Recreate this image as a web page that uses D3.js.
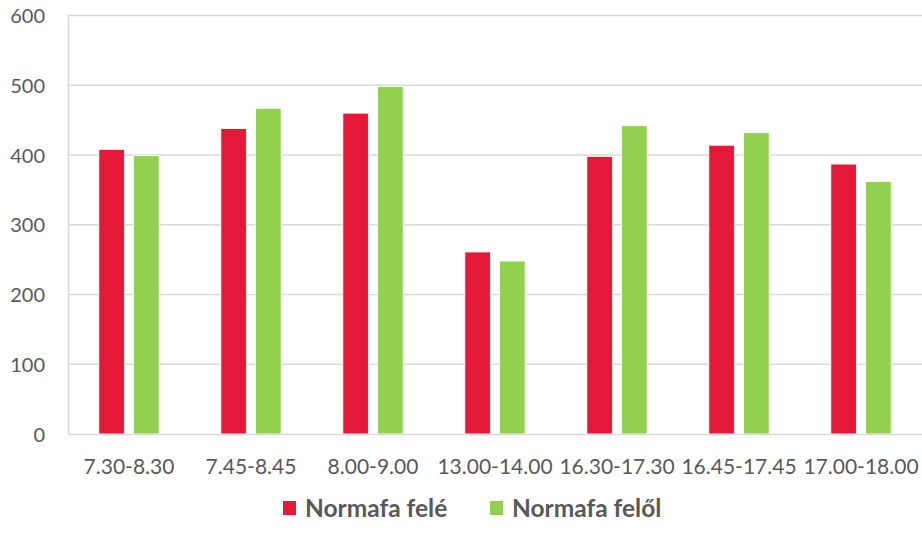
<!DOCTYPE html>
<html><head><meta charset="utf-8">
<script src="https://cdn.jsdelivr.net/npm/d3@7/dist/d3.min.js"></script>
<style>body{margin:0;background:#fff;} svg{display:block;} text{font-family:Lato, "Open Sans", sans-serif;}</style>
</head><body>
<svg id="c" width="922" height="533"></svg>
<script>
const categories = ["7.30-8.30","7.45-8.45","8.00-9.00","13.00-14.00","16.30-17.30","16.45-17.45","17.00-18.00"];
const seriesNames = ["Normafa felé","Normafa felől"];
const feleValues = [408, 438, 460, 261, 398, 414, 387];
const felolValues = [399, 467, 498, 248, 442, 432, 362];
const yTicks = [0,100,200,300,400,500,600];
const colors = ["#E31937","#92D050"];

const svg = d3.select("#c");
const m = {left:68, right:0, top:15.5};
const W = 922;
const x = d3.scaleBand().domain(categories).range([m.left, W - m.right]);
const y = d3.scaleLinear().domain([0,600]).range([434, m.top]);

svg.append("g").selectAll("line").data(yTicks.filter(d=>d>0)).join("line")
  .attr("x1", m.left).attr("x2", W).attr("y1", d=>y(d)).attr("y2", d=>y(d))
  .attr("stroke","#d9d9d9").attr("stroke-width",1.5);
svg.append("line").attr("x1",m.left+0.5).attr("x2",m.left+0.5).attr("y1",y(600)).attr("y2",y(0))
  .attr("stroke","#d9d9d9").attr("stroke-width",1.5);

const yAxis = d3.axisLeft(y).tickValues(yTicks).tickSize(0).tickPadding(0);
const gy = svg.append("g").attr("transform",`translate(45,0)`).call(yAxis);
gy.attr("font-family", null).attr("font-size", null);
gy.select(".domain").remove();
gy.selectAll("text").attr("fill","#595959").style("font-size","20px").attr("dy","0.35em");

const series = [feleValues, felolValues];
const bw = 25.5, gap = 9.3;
const offs = [-(bw/2 + gap/2), (bw/2 + gap/2)];
series.forEach((vals, si) => {
  svg.append("g").selectAll("rect").data(vals).join("rect")
    .attr("x", (d,i) => x(categories[i]) + x.bandwidth()/2 + offs[si] - bw/2)
    .attr("width", bw)
    .attr("y", d => y(d))
    .attr("height", d => y(0) - y(d))
    .attr("fill", colors[si])
    .attr("stroke","#fff").attr("stroke-width",0.8);
});

const xAxis = d3.axisBottom(x).tickSize(0).tickPadding(0);
const gx = svg.append("g").attr("transform",`translate(0,${y(0)})`).call(xAxis);
gx.attr("font-family", null).attr("font-size", null);
gx.select(".domain").attr("stroke","#d9d9d9").attr("stroke-width",1.5).attr("d",`M${m.left},0.5H${W}`);
gx.selectAll("text").attr("fill","#595959").style("font-size","21px").attr("y", 33).attr("dy","0.35em");

const leg = svg.append("g");
const legX = [283, 490];
seriesNames.forEach((n,i)=>{
  leg.append("rect").attr("x",legX[i]).attr("y",501).attr("width",13).attr("height",14).attr("fill",colors[i]);
  leg.append("text").attr("x",legX[i]+22).attr("y",508).attr("dy","0.35em")
    .attr("fill","#595959").style("font-size","24.5px").style("font-weight","bold").text(n);
});
</script>
</body></html>
